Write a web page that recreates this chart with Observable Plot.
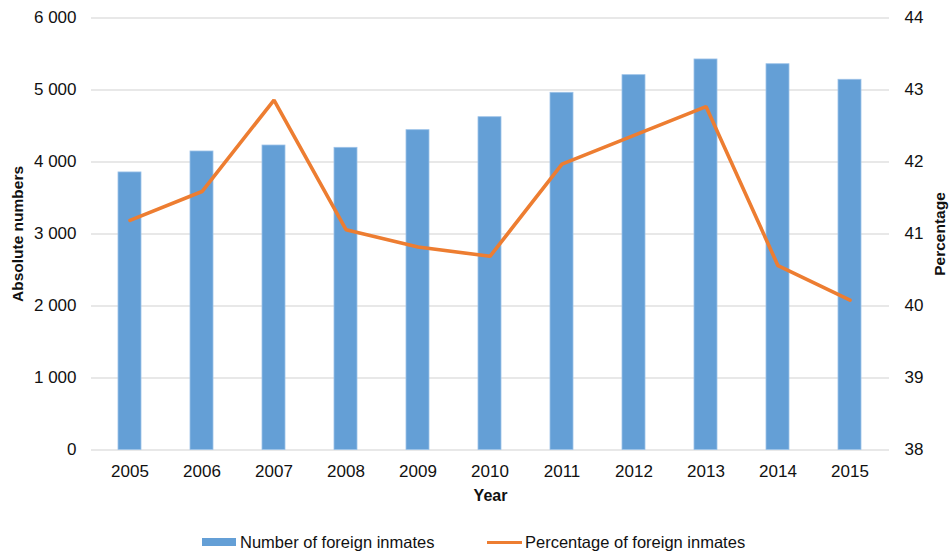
<!DOCTYPE html>
<html>
<head>
<meta charset="utf-8">
<script src="https://cdn.jsdelivr.net/npm/d3@7"></script>
<script src="https://cdn.jsdelivr.net/npm/@observablehq/plot@0.6"></script>
<style>
  html, body { margin: 0; padding: 0; background: #fff; }
  #wrap { position: relative; width: 949px; height: 554px; font-family: "Liberation Sans", Arial, sans-serif; }
  #legend { position: absolute; left: 0; top: 531px; width: 949px; height: 22px; font-size: 16.5px; color: #111; }
  .item { position: absolute; top: 0; height: 22px; line-height: 22px; white-space: nowrap; }
  .sw { position: absolute; }
</style>
</head>
<body>
<div id="wrap">
  <div id="chart"></div>
  <div id="legend">
    <div class="sw" style="left:202px; top:7px; width:34px; height:8px; background:#649fd6"></div>
    <div class="item" style="left:240px">Number of foreign inmates</div>
    <div class="sw" style="left:487px; top:10px; width:35px; height:3px; background:#ed7d31"></div>
    <div class="item" style="left:525px">Percentage of foreign inmates</div>
  </div>
</div>
<script>
const years = ["2005","2006","2007","2008","2009","2010","2011","2012","2013","2014","2015"];
const foreignInmates = [3855, 4146, 4229, 4197, 4442, 4622, 4961, 5206, 5424, 5358, 5142];
const percentForeign = [41.19, 41.59, 42.86, 41.06, 40.82, 40.69, 41.97, 42.37, 42.77, 40.56, 40.08];
const leftTicks = [0, 1000, 2000, 3000, 4000, 5000, 6000];
const rightTicks = [38, 39, 40, 41, 42, 43, 44];

const pctMin = 38, pctMax = 44, absMax = 6000;
const toLeft = p => (p - pctMin) / (pctMax - pctMin) * absMax;

const data = years.map((y, i) => ({year: y, count: foreignInmates[i], pct: percentForeign[i]}));
const fmt = d => d3.format(",")(d).replace(/,/g, " ");

const chart = Plot.plot({
  width: 949,
  height: 520,
  marginLeft: 91,
  marginRight: 60,
  marginTop: 17.5,
  marginBottom: 70.5,
  style: {fontFamily: "Liberation Sans, Arial, sans-serif", fontSize: "17px", color: "#111", background: "#fff"},
  x: {domain: years, paddingInner: 0.68, paddingOuter: 0.34, label: null},
  y: {domain: [0, absMax], label: null},
  marks: [
    Plot.gridY(leftTicks, {stroke: "#e0e0e0", strokeOpacity: 1, strokeWidth: 1.6}),
    Plot.barY(data, {x: "year", y: "count", fill: "#649fd6", stroke: "#9cc2e8", strokeWidth: 0.8}),
    Plot.line(data, {x: "year", y: d => toLeft(d.pct), stroke: "#ed7d31", strokeWidth: 3.6, strokeLinejoin: "miter"}),
    Plot.axisY(leftTicks, {anchor: "left", tickSize: 0, tickPadding: 15, tickFormat: fmt, label: null, fontSize: 17}),
    Plot.axisY(rightTicks.map(toLeft), {anchor: "right", tickSize: 0, tickPadding: 15, tickFormat: (d, i) => String(rightTicks[i]), label: null, fontSize: 17}),
    Plot.axisX({tickSize: 0, tickPadding: 15, label: null, fontSize: 17}),
    Plot.text(["Absolute numbers"], {frameAnchor: "left", dx: -73, rotate: -90, textAnchor: "middle", lineAnchor: "middle", fontWeight: "bold", fontSize: 15.5}),
    Plot.text(["Percentage"], {frameAnchor: "right", dx: 51, rotate: -90, textAnchor: "middle", lineAnchor: "middle", fontWeight: "bold", fontSize: 15.5}),
    Plot.text(["Year"], {frameAnchor: "bottom", dy: 45.5, textAnchor: "middle", lineAnchor: "middle", fontWeight: "bold", fontSize: 16})
  ]
});
document.getElementById("chart").appendChild(chart);
</script>
</body>
</html>
